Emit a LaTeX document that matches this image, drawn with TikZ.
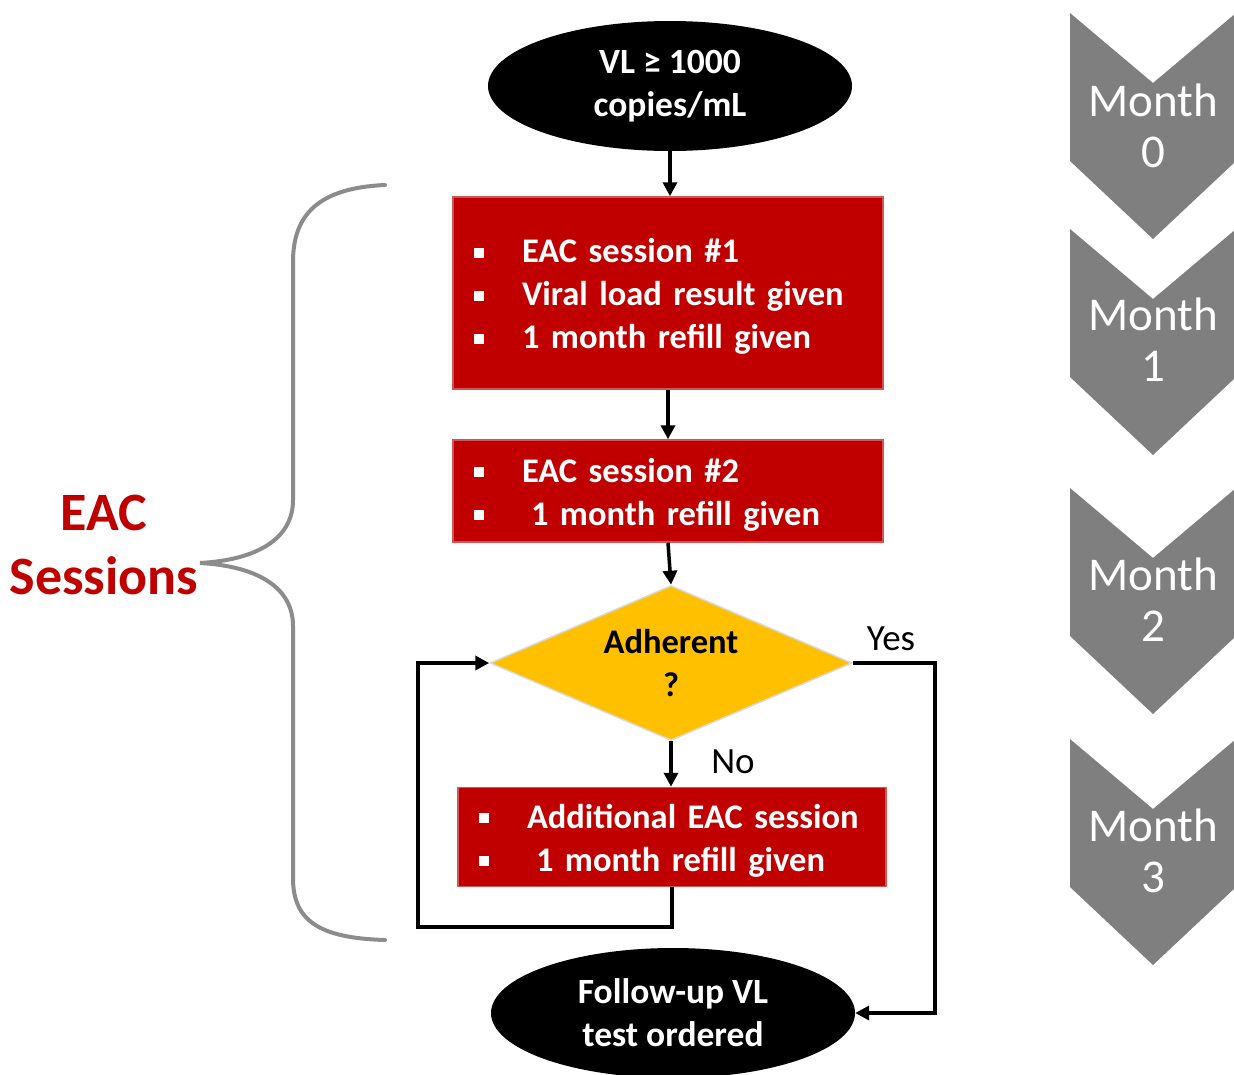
\documentclass[tikz,border=0pt]{standalone}
\usepackage{fontspec}
\setmainfont{Carlito}
\usetikzlibrary{shapes.geometric,arrows.meta}
\definecolor{eacred}{HTML}{C00000}
\definecolor{boxedge}{HTML}{D45555}
\definecolor{ambr}{HTML}{FFC000}
\definecolor{chev}{HTML}{7F7F7F}
\definecolor{brc}{HTML}{8C8C8C}
\newcommand\bul{\makebox[59pt][l]{\hspace{11pt}\rule[5pt]{10pt}{10pt}}}
\newcommand\topstrut{\rule{0pt}{31pt}}
\begin{document}
\begin{tikzpicture}[x=1pt,y=-1pt,
  txt/.style={font=\fontsize{34.5}{43}\selectfont\bfseries},
  oval/.style={ellipse, fill=black, text=white, font=\fontsize{35.5}{43}\selectfont\bfseries, align=center, minimum width=364pt, minimum height=130pt, inner sep=0pt},
  redbox/.style={rectangle, fill=eacred, draw=boxedge, line width=1.5pt, text=white, txt, align=left, inner xsep=10pt, inner ysep=0pt},
  arr/.style={line width=3.5pt, -{Triangle[length=14pt,width=14pt]}},
  lbl/.style={font=\fontsize{37}{40}\selectfont},
  month/.style={text=white, align=center, font=\fontsize{47}{51}\selectfont}
]
\useasboundingbox (0,0) rectangle (1234,1074);
\clip (0,0) rectangle (1234,1074);
\fill[white] (0,0) rectangle (1234,1074);

% chevrons
\foreach \t/\m in {13/0,229/1,488/2,739/3}{
  \fill[chev] (1070,\t) -- (1153,\t+70) -- (1236,\t) -- (1236,\t+148) -- (1153,\t+226) -- (1070,\t+148) -- cycle;
}
\node[month] (m0) at (1153,126) {Month\\0};
\node[month] (m1) at (1153,340) {Month\\1};
\node[month] (m2) at (1153,600) {Month\\2};
\node[month] (m3) at (1153,851) {Month\\3};

% brace
\coordinate (tip) at (200,563);
\draw[brc, line width=4pt, line cap=round]
  (385,185) .. controls (318,188) and (293,215) .. (293,262) -- (293,500)
  .. controls (293,540) and (255,560) .. (tip)
  .. controls (255,566) and (293,586) .. (293,626) -- (293,878)
  .. controls (293,920) and (318,938) .. (385,940);
\node[align=center, text=eacred, font=\fontsize{54}{64}\selectfont\bfseries] (eac) at (104,545) {EAC\\Sessions};

% flow nodes
\node[oval] (vl) at (670,86) {VL ≥ 1000\\copies/mL};
\node[redbox, text width=410pt, minimum height=192pt] (b1) at (668,293)
  {\topstrut\bul EAC session \#1\\\bul Viral load result given\\\bul 1 month refill given};
\node[redbox, text width=410pt, minimum height=102pt] (b2) at (668,491)
  {\topstrut\bul EAC session \#2\\\bul\hspace{9pt}1 month refill given};
\node[diamond, fill=ambr, draw=black!15, line width=1.5pt, minimum width=362pt, minimum height=155pt, inner sep=0pt, aspect=2.33, txt, align=center] (dia) at (671,663) {Adherent\\?};
\node[redbox, text width=408pt, minimum height=99pt] (b3) at (672,837)
  {\topstrut\bul Additional EAC session\\\bul\hspace{9pt}1 month refill given};
\node[oval] (fu) at (673,1013) {Follow-up VL\\test ordered};

\node[lbl] (yes) at (891,639) {Yes};
\node[lbl] (no) at (733,762) {No};

% connectors
\coordinate (lp) at (418,927);
\coordinate (yc) at (935,1013);
\draw[arr] (vl.south) -- (vl.south |- b1.north);
\draw[arr] (b1.south) -- (b1.south |- b2.north);
\draw[arr] (b2.south) -- (dia.north);
\draw[arr] (dia.south) -- (dia.south |- b3.north);
\draw[arr] (b3.south) |- (lp) |- (dia.west);
\draw[arr] (dia.east) -| (yc) -- (fu.east);
\end{tikzpicture}
\end{document}
